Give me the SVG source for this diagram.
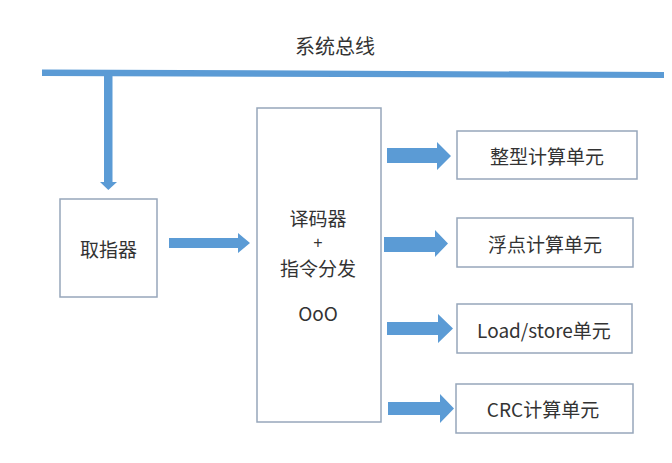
<svg xmlns="http://www.w3.org/2000/svg" width="672" height="463" viewBox="0 0 672 463">
<style>
.box{fill:#ffffff;stroke:#97a6bb;stroke-width:1.5}
.arr{fill:#5b9bd5}
.t{font-family:"Noto Sans CJK SC","Microsoft YaHei",sans-serif;fill:#333333;text-anchor:middle;dominant-baseline:central}
</style>
<rect width="672" height="463" fill="#ffffff"/>
<g id="bus">
<polygon class="arr" points="42,69.5 664,72 664,78 42,76"/>
<text class="t" x="335" y="45" font-size="20">系统总线</text>
</g>
<g id="connectors">
<polygon class="arr" points="104,76 112.5,76 112.5,182 117,182 108.3,190 100,182 104,182"/>
<polygon class="arr" points="169,238 238,238 238,233 250,243 238,253 238,248 169,248"/>
<polygon class="arr" points="387,148 437,148 437,142 451,156 437,170 437,163 387,163"/>
<polygon class="arr" points="384,237 435,237 435,230 448,243.5 435,257 435,252 384,252"/>
<polygon class="arr" points="387,322 438,322 438,314 453,328.5 438,343 438,335 387,335"/>
<polygon class="arr" points="388,402 440,402 440,394 454,408.5 440,423 440,415 388,415"/>
</g>
<g id="fetch">
<rect class="box" x="60" y="199" width="97" height="98"/>
<text class="t" x="108.5" y="248" font-size="19">取指器</text>
</g>
<g id="decode">
<rect class="box" x="257" y="108" width="124" height="314"/>
<text class="t" x="318" y="217" font-size="19">译码器</text>
<text class="t" x="318" y="242" font-size="16" style="font-family:'Liberation Sans',sans-serif">+</text>
<text class="t" x="318" y="267" font-size="19">指令分发</text>
<text class="t" x="318" y="312" font-size="19">OoO</text>
</g>
<g id="int-unit">
<rect class="box" x="457" y="131" width="180" height="48"/>
<text class="t" x="547" y="155" font-size="19">整型计算单元</text>
</g>
<g id="fp-unit">
<rect class="box" x="457" y="218" width="176" height="49"/>
<text class="t" x="545" y="243" font-size="19">浮点计算单元</text>
</g>
<g id="ls-unit">
<rect class="box" x="457" y="304" width="175" height="49"/>
<text class="t" x="544" y="329" font-size="19">Load/store单元</text>
</g>
<g id="crc-unit">
<rect class="box" x="456" y="384" width="177" height="49"/>
<text class="t" x="543" y="408" font-size="19">CRC计算单元</text>
</g>
</svg>
